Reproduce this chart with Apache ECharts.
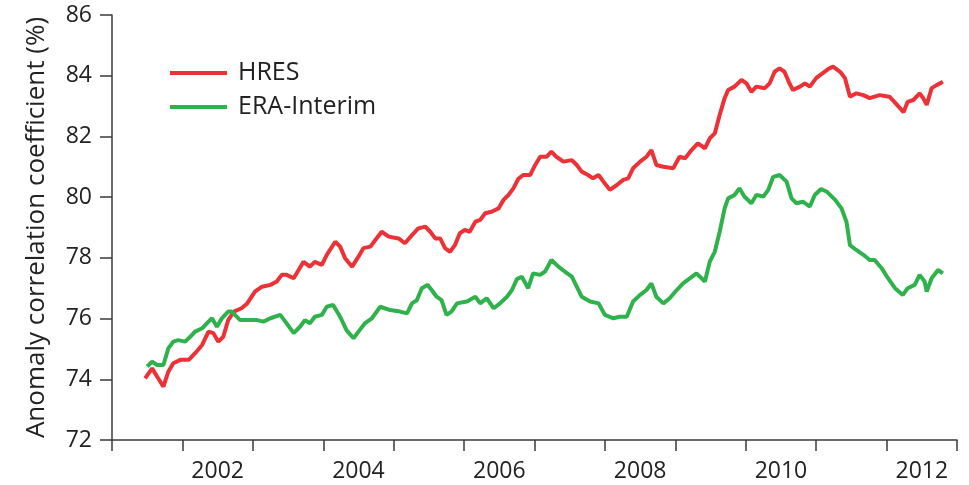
<!DOCTYPE html>
<html>
<head>
<meta charset="utf-8">
<script src="https://cdn.jsdelivr.net/npm/echarts@6/dist/echarts.min.js"></script>
<style>
  html, body { margin: 0; padding: 0; background: #fff; }
  #main { width: 969px; height: 485px; }
</style>
</head>
<body>
<div id="main"></div>
<script>
// decimal year / anomaly correlation (%)
const hresYears = [2001.47, 2001.57, 2001.64, 2001.73, 2001.80, 2001.87, 2001.97, 2002.09, 2002.18, 2002.28,
  2002.37, 2002.44, 2002.51, 2002.58, 2002.65, 2002.73, 2002.84, 2002.92, 2003.03, 2003.13,
  2003.25, 2003.34, 2003.41, 2003.48, 2003.58, 2003.65, 2003.72, 2003.81, 2003.88, 2003.98,
  2004.05, 2004.17, 2004.24, 2004.31, 2004.41, 2004.50, 2004.57, 2004.67, 2004.74, 2004.83,
  2004.93, 2005.07, 2005.16, 2005.26, 2005.35, 2005.45, 2005.52, 2005.59, 2005.66, 2005.73,
  2005.80, 2005.87, 2005.94, 2006.01, 2006.08, 2006.16, 2006.23, 2006.30, 2006.39, 2006.49,
  2006.56, 2006.63, 2006.70, 2006.77, 2006.84, 2006.94, 2007.01, 2007.08, 2007.17, 2007.24,
  2007.31, 2007.41, 2007.53, 2007.60, 2007.67, 2007.76, 2007.83, 2007.91, 2007.98, 2008.07,
  2008.17, 2008.26, 2008.33, 2008.40, 2008.50, 2008.59, 2008.66, 2008.73, 2008.83, 2008.97,
  2009.06, 2009.14, 2009.23, 2009.32, 2009.42, 2009.49, 2009.56, 2009.63, 2009.70, 2009.75,
  2009.84, 2009.94, 2010.01, 2010.08, 2010.15, 2010.27, 2010.34, 2010.41, 2010.48, 2010.55,
  2010.62, 2010.67, 2010.77, 2010.84, 2010.91, 2011.00, 2011.09, 2011.17, 2011.24, 2011.34,
  2011.41, 2011.48, 2011.57, 2011.67, 2011.76, 2011.90, 2012.04, 2012.11, 2012.19, 2012.24,
  2012.30, 2012.38, 2012.47, 2012.52, 2012.57, 2012.64, 2012.71, 2012.80];
const hresValues = [74.03, 74.36, 74.09, 73.76, 74.25, 74.53, 74.64, 74.64, 74.86, 75.13,
  75.57, 75.52, 75.24, 75.40, 75.95, 76.23, 76.34, 76.50, 76.89, 77.05,
  77.11, 77.22, 77.44, 77.44, 77.33, 77.60, 77.87, 77.71, 77.87, 77.77,
  78.10, 78.53, 78.37, 77.99, 77.71, 78.04, 78.32, 78.37, 78.59, 78.86,
  78.70, 78.64, 78.48, 78.75, 78.97, 79.03, 78.86, 78.64, 78.64, 78.32,
  78.20, 78.42, 78.81, 78.92, 78.86, 79.19, 79.25, 79.47, 79.52, 79.63,
  79.91, 80.07, 80.29, 80.60, 80.73, 80.73, 81.06, 81.33, 81.33, 81.50,
  81.33, 81.17, 81.22, 81.06, 80.84, 80.73, 80.62, 80.73, 80.51, 80.24,
  80.40, 80.57, 80.62, 80.95, 81.17, 81.33, 81.55, 81.06, 81.00, 80.95,
  81.33, 81.28, 81.55, 81.77, 81.61, 81.94, 82.10, 82.71, 83.26, 83.53,
  83.64, 83.86, 83.75, 83.47, 83.64, 83.59, 83.75, 84.13, 84.24, 84.13,
  83.75, 83.53, 83.64, 83.75, 83.64, 83.92, 84.08, 84.22, 84.30, 84.13,
  83.92, 83.31, 83.42, 83.36, 83.26, 83.36, 83.31, 83.14, 82.93, 82.80,
  83.14, 83.20, 83.42, 83.26, 83.04, 83.59, 83.69, 83.80];

const eraYears = [2001.50, 2001.57, 2001.64, 2001.73, 2001.80, 2001.87, 2001.94, 2002.04, 2002.11, 2002.18,
  2002.28, 2002.37, 2002.42, 2002.49, 2002.56, 2002.65, 2002.70, 2002.82, 2002.96, 2003.06,
  2003.15, 2003.25, 2003.39, 2003.48, 2003.58, 2003.67, 2003.74, 2003.81, 2003.88, 2003.98,
  2004.05, 2004.14, 2004.24, 2004.33, 2004.43, 2004.50, 2004.59, 2004.69, 2004.81, 2004.95,
  2005.09, 2005.19, 2005.26, 2005.33, 2005.40, 2005.48, 2005.54, 2005.61, 2005.68, 2005.75,
  2005.82, 2005.90, 2006.04, 2006.16, 2006.23, 2006.32, 2006.42, 2006.51, 2006.61, 2006.68,
  2006.75, 2006.82, 2006.91, 2006.98, 2007.08, 2007.15, 2007.24, 2007.34, 2007.43, 2007.53,
  2007.60, 2007.67, 2007.79, 2007.91, 2008.00, 2008.12, 2008.21, 2008.31, 2008.40, 2008.50,
  2008.59, 2008.66, 2008.73, 2008.83, 2008.92, 2009.02, 2009.11, 2009.21, 2009.30, 2009.42,
  2009.49, 2009.56, 2009.63, 2009.70, 2009.75, 2009.84, 2009.91, 2009.98, 2010.08, 2010.15,
  2010.25, 2010.32, 2010.39, 2010.48, 2010.58, 2010.65, 2010.72, 2010.81, 2010.91, 2010.98,
  2011.07, 2011.15, 2011.27, 2011.36, 2011.43, 2011.48, 2011.57, 2011.67, 2011.76, 2011.83,
  2011.93, 2012.02, 2012.12, 2012.23, 2012.30, 2012.40, 2012.47, 2012.54, 2012.57, 2012.64,
  2012.73, 2012.80];
const eraValues = [74.42, 74.58, 74.47, 74.47, 75.02, 75.24, 75.29, 75.24, 75.40, 75.57,
  75.68, 75.90, 76.01, 75.73, 76.01, 76.23, 76.23, 75.95, 75.95, 75.95,
  75.90, 76.01, 76.12, 75.84, 75.52, 75.73, 75.95, 75.84, 76.06, 76.12,
  76.39, 76.45, 76.06, 75.62, 75.35, 75.57, 75.84, 76.01, 76.39, 76.28,
  76.23, 76.17, 76.50, 76.61, 77.00, 77.11, 76.94, 76.72, 76.61, 76.12,
  76.23, 76.50, 76.56, 76.72, 76.50, 76.67, 76.34, 76.50, 76.72, 76.94,
  77.30, 77.38, 77.00, 77.49, 77.44, 77.55, 77.93, 77.71, 77.55, 77.38,
  77.05, 76.72, 76.56, 76.50, 76.12, 76.01, 76.06, 76.06, 76.56, 76.78,
  76.94, 77.16, 76.72, 76.50, 76.67, 76.94, 77.16, 77.33, 77.49, 77.22,
  77.88, 78.20, 78.86, 79.63, 79.96, 80.07, 80.29, 80.02, 79.80, 80.07,
  80.02, 80.24, 80.67, 80.73, 80.51, 79.96, 79.80, 79.85, 79.69, 80.07,
  80.27, 80.18, 79.91, 79.63, 79.19, 78.42, 78.26, 78.10, 77.93, 77.93,
  77.66, 77.33, 77.00, 76.78, 77.00, 77.11, 77.44, 77.22, 76.89, 77.33,
  77.60, 77.49];

const yearMin = 2001, yearMax = 2013;
const yTicks = {min: 72, max: 86, interval: 2};

const zip = (xs, ys) => xs.map((x, i) => [x, ys[i]]);

const textColor = '#222';
const axisColor = '#3a3a3a';
const font = 'Open Sans';

const chart = echarts.init(document.getElementById('main'));
const option = {
    animation: false,
    grid: {left: 112, right: 12, top: 15, bottom: 45},
    legend: {
        orient: 'vertical',
        left: 165,
        top: 55,
        icon: 'rect',
        itemWidth: 57,
        itemHeight: 4,
        itemGap: 8,
        textStyle: {fontFamily: font, fontSize: 25, color: textColor, lineHeight: 26, padding: [0, 0, 0, 6]},
        data: ['HRES', 'ERA-Interim']
    },
    xAxis: [
        {
            type: 'value',
            position: 'bottom',
            min: yearMin,
            max: yearMax,
            interval: 1,
            axisLine: {show: true, lineStyle: {color: axisColor, width: 1.5}},
            axisTick: {show: true, inside: false, length: 11, lineStyle: {color: axisColor, width: 1.5}},
            axisLabel: {show: false},
            splitLine: {show: false}
        },
        {
            // labels sit mid-year between the year ticks
            type: 'value',
            position: 'bottom',
            min: yearMin,
            max: yearMax,
            interval: 0.5,
            axisLine: {show: false},
            axisTick: {show: false},
            splitLine: {show: false},
            axisLabel: {
                margin: 20,
                fontFamily: font,
                fontSize: 23,
                color: textColor,
                formatter: v => {
                    const y = v - 0.5;
                    const r = Math.round(y);
                    return (Math.abs(y - r) < 1e-6 && r % 2 === 0) ? String(r) : '';
                }
            }
        }
    ],
    yAxis: {
        type: 'value',
        min: yTicks.min,
        max: yTicks.max,
        interval: yTicks.interval,
        name: 'Anomaly correlation coefficient (%)',
        nameLocation: 'middle',
        nameGap: 62,
        nameTextStyle: {fontFamily: font, fontSize: 26, color: textColor},
        axisLine: {show: true, lineStyle: {color: axisColor, width: 1.5}},
        axisTick: {show: true, inside: false, length: 12, lineStyle: {color: axisColor, width: 1.5}},
        axisLabel: {margin: 20, fontFamily: font, fontSize: 23, color: textColor},
        splitLine: {show: false}
    },
    series: [
        {
            name: 'HRES',
            type: 'line',
            xAxisIndex: 0,
            showSymbol: false,
            color: '#ec3237',
            lineStyle: {width: 4, color: '#ec3237'},
            data: zip(hresYears, hresValues)
        },
        {
            name: 'ERA-Interim',
            type: 'line',
            xAxisIndex: 0,
            showSymbol: false,
            color: '#2fb14b',
            lineStyle: {width: 4, color: '#2fb14b'},
            data: zip(eraYears, eraValues)
        }
    ]
};
option && chart.setOption(option);
</script>
</body>
</html>
